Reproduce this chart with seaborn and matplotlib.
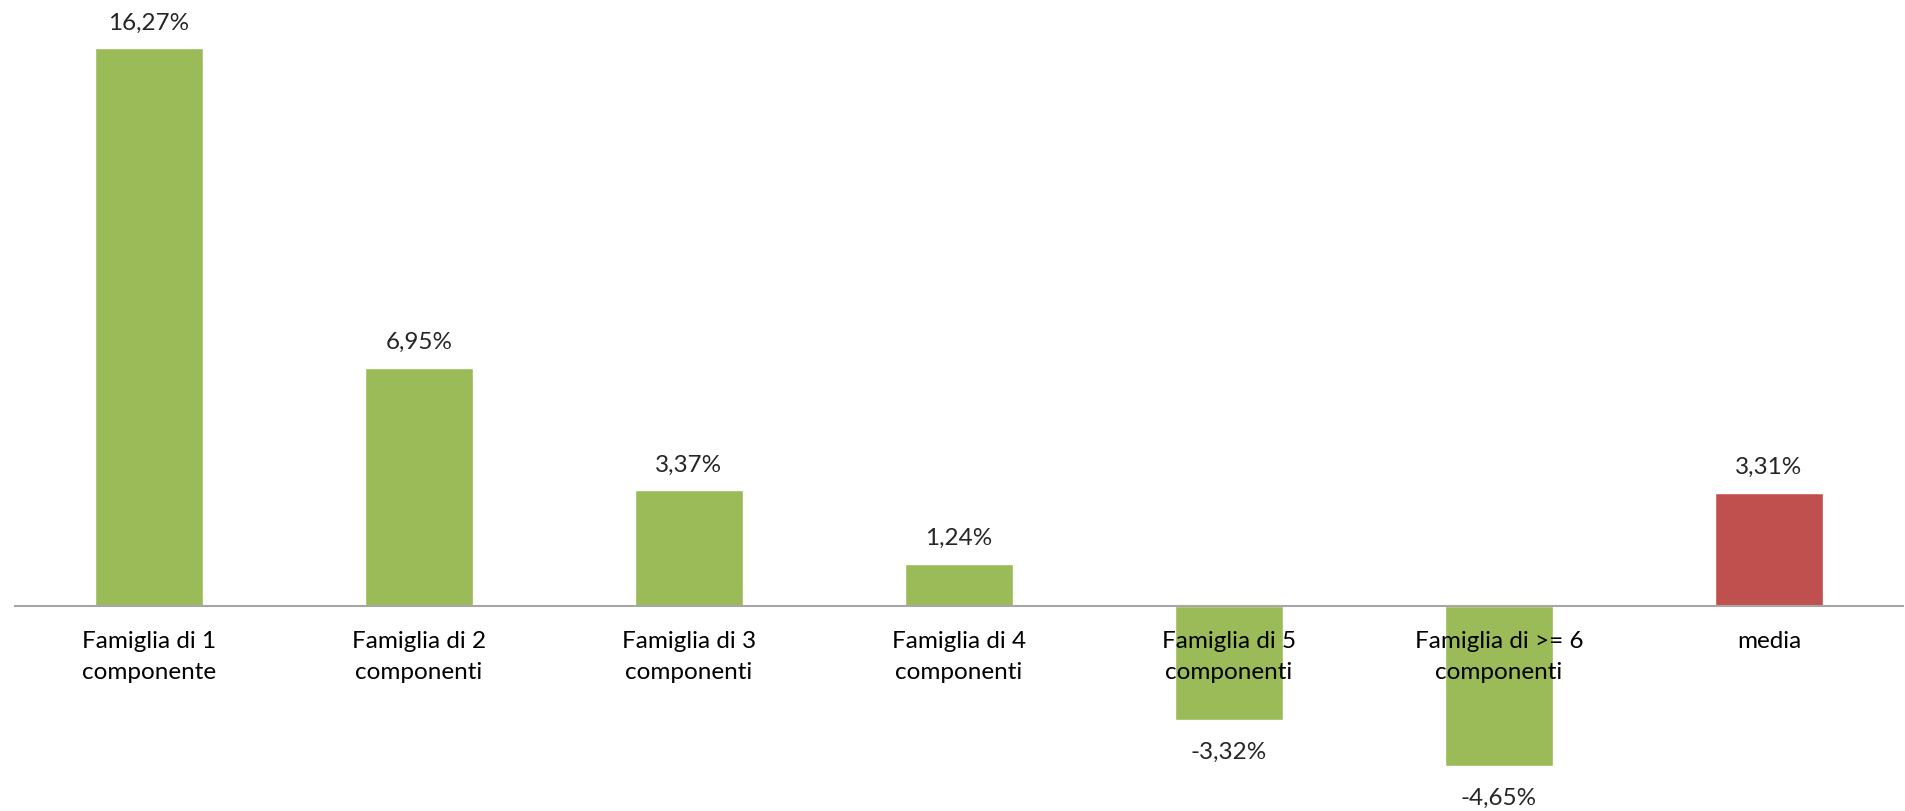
import matplotlib
matplotlib.use("Agg")
import matplotlib.pyplot as plt
import seaborn as sns
import pandas as pd

# data
categories = ["Famiglia di 1\ncomponente", "Famiglia di 2\ncomponenti",
              "Famiglia di 3\ncomponenti", "Famiglia di 4\ncomponenti",
              "Famiglia di 5\ncomponenti", "Famiglia di >= 6\ncomponenti",
              "media"]
values = [16.27, 6.95, 3.37, 1.24, -3.32, -4.65, 3.31]
bar_colors = ["#9BBB59"] * 6 + ["#C0504D"]

sns.set_theme(style="white")
plt.rcParams["font.family"] = ["Lato", "DejaVu Sans"]

df = pd.DataFrame({"cat": categories, "val": values})

fig = plt.figure(figsize=(19.06, 8.12), dpi=100)
ax = fig.add_axes([14 / 1906, 0, 1890 / 1906, 1])

sns.barplot(data=df, x="cat", y="val", hue="cat", palette=bar_colors,
            width=0.4, saturation=1, legend=False, ax=ax, zorder=1)

ax.set_xlim(-0.5, 6.5)
ax.set_ylim(-5.97, 17.69)
ax.axhline(0, color="#a6a6a6", lw=1.5, zorder=1.5)
ax.set_axisbelow(False)

for s in ax.spines.values():
    s.set_visible(False)
ax.set_yticks([])
ax.set_xlabel("")
ax.set_ylabel("")
ax.xaxis.set_ticks_position("none")
# tick labels sit just under the zero line, over the negative bars
ax.spines["bottom"].set_position(("data", 0))
ax.tick_params(axis="x", pad=11, labelsize=17.5, colors="black")
for lbl in ax.get_xticklabels():
    lbl.set_linespacing(1.6)
    lbl.set_verticalalignment("top")

# value labels
for i, v in enumerate(values):
    txt = f"{v:.2f}%".replace(".", ",")
    if v >= 0:
        ax.annotate(txt, (i, v), xytext=(0, 11), textcoords="offset points",
                    ha="center", va="bottom", fontsize=17.5)
    else:
        ax.annotate(txt, (i, v), xytext=(0, -15), textcoords="offset points",
                    ha="center", va="top", fontsize=17.5)

fig.savefig("out.png", dpi=100)
